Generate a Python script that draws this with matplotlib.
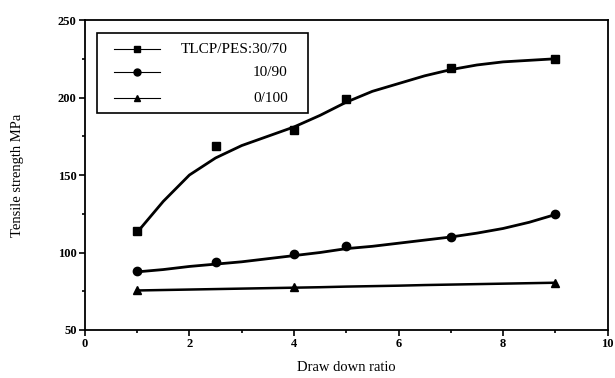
import numpy as np
import matplotlib.pyplot as plt
from matplotlib.patches import Rectangle
from matplotlib.ticker import MultipleLocator

# measured points
ratio_a = [1, 2.5, 4, 5, 7, 9]
tlcp_30 = [114, 169, 179, 199, 219, 225]
ratio_b = [1, 2.5, 4, 5, 7, 9]
tlcp_10 = [88, 94, 99, 104, 110, 125]
ratio_c = [1, 4, 9]
tlcp_0 = [76, 77.5, 80.5]

# fitted curves as drawn in the figure
fit_x = [1, 1.5, 2, 2.5, 3, 3.5, 4, 4.5, 5, 5.5, 6, 6.5, 7, 7.5, 8, 8.5, 9]
fit_30 = [113, 133, 150, 161, 169, 175, 181, 188.5, 197, 204, 209, 214, 218, 221, 223, 224, 225]
fit_10 = [87.5, 89, 91, 92.5, 94, 96, 98, 100, 102.5, 104, 106, 108, 110, 112.5, 115.5, 119.5, 124.5]
fit_0 = [75.5, 75.8, 76.1, 76.4, 76.7, 77, 77.3, 77.6, 78, 78.3, 78.6, 79, 79.3, 79.6, 79.9, 80.2, 80.5]

labels = ["TLCP/PES:30/70", "10/90", "0/100"]
markers = ["s", "o", "^"]

plt.rcParams['font.family'] = ['Liberation Serif', 'DejaVu Serif']

fig = plt.figure(figsize=(6.15, 3.78), dpi=100)
ax = fig.add_axes([0.138, 0.127, 0.850, 0.820])

ax.plot(fit_x, fit_30, color='black', lw=2.0, solid_joinstyle='round')
ax.plot(fit_x, fit_10, color='black', lw=2.0, solid_joinstyle='round')
ax.plot(fit_x, fit_0, color='black', lw=1.8)
ax.plot(ratio_a, tlcp_30, 's', color='black', ms=5.5, ls='none')
ax.plot(ratio_b, tlcp_10, 'o', color='black', ms=6, ls='none')
ax.plot(ratio_c, tlcp_0, '^', color='black', ms=5.5, ls='none')

ax.set_xlim(0, 10)
ax.set_ylim(50, 250)
ax.xaxis.set_major_locator(MultipleLocator(2))
ax.xaxis.set_minor_locator(MultipleLocator(1))
ax.yaxis.set_major_locator(MultipleLocator(50))
ax.yaxis.set_minor_locator(MultipleLocator(25))
ax.tick_params(which='major', direction='out', length=4, width=1.2, labelsize=9, pad=2)
ax.tick_params(which='minor', direction='out', length=2.5, width=1.2)
for lab in ax.get_xticklabels() + ax.get_yticklabels():
    lab.set_fontweight('bold')
for sp in ax.spines.values():
    sp.set_linewidth(1.3)

ax.set_xlabel("Draw down ratio", fontsize=10.5, labelpad=8)
ax.set_ylabel("Tensile strength MPa", fontsize=10.5, labelpad=24)

# hand-drawn style legend box
ax.add_patch(Rectangle((0.024, 0.699), 0.402, 0.258, transform=ax.transAxes,
                       fill=False, edgecolor='black', lw=1.2))
rows = [0.906, 0.831, 0.748]
for lab, mk, yy in zip(labels, markers, rows):
    ax.plot([0.056, 0.144], [yy, yy], color='black', lw=0.8, transform=ax.transAxes)
    ax.plot([0.099], [yy], marker=mk, color='black', ms=5, transform=ax.transAxes)
    ax.text(0.388, yy, lab, transform=ax.transAxes, ha='right', va='center', fontsize=11)

plt.savefig('out.png', dpi=100)
plt.close()
